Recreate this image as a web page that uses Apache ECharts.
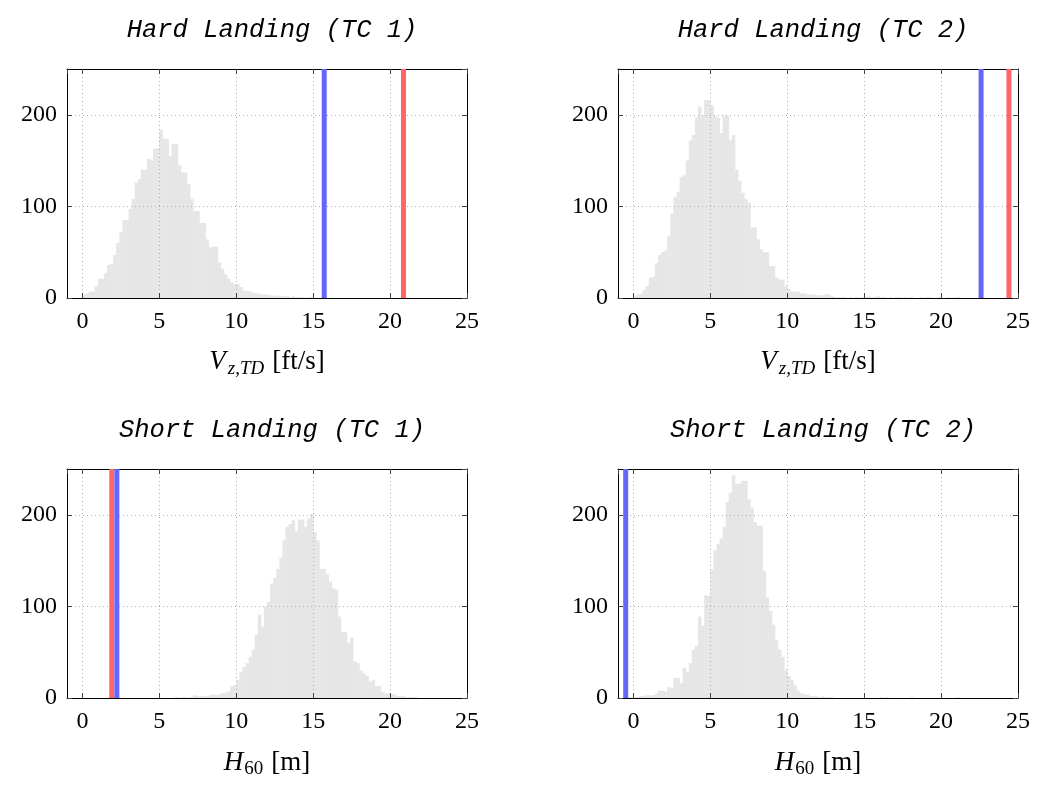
<!DOCTYPE html>
<html>
<head>
<meta charset="utf-8">
<script src="https://cdn.jsdelivr.net/npm/echarts@6/dist/echarts.min.js"></script>
<style>
  html, body { margin: 0; padding: 0; background: #ffffff; }
  #chart { width: 1040px; height: 785px; }
</style>
</head>
<body>
<div id="chart"></div>
<script>
// ---- Monte-Carlo histograms of landing metrics (bin width 0.2) ----
const binWidth = 0.2;

// Hard landing, TC 1: touchdown sink rate [ft/s], bins start at 0
const hardTC1Start = 0.0;
const hardTC1Counts = [
  3, 5, 7, 7, 13, 21, 21, 27, 36, 37,
  47, 60, 72, 85, 85, 97, 108, 126, 130, 140,
  140, 152, 150, 163, 163, 184, 174, 174, 155, 168,
  168, 145, 137, 137, 124, 108, 95, 95, 82, 82,
  64, 55, 56, 56, 39, 32, 26, 21, 17, 15,
  15, 12, 8, 8, 7, 6, 5, 5, 4, 4,
  3, 3, 2, 3, 2, 2, 2, 1, 2, 1,
  1, 1, 0, 1, 1
];

// Hard landing, TC 2: touchdown sink rate [ft/s], bins start at 0
const hardTC2Start = 0.0;
const hardTC2Counts = [
  2, 4, 5, 9, 13, 22, 23, 38, 47, 50,
  52, 68, 92, 110, 116, 132, 134, 150, 172, 178,
  197, 209, 199, 216, 216, 210, 199, 197, 180, 199,
  199, 172, 178, 140, 128, 115, 108, 104, 77, 77,
  64, 53, 50, 50, 35, 35, 22, 20, 20, 13,
  10, 7, 7, 7, 5, 5, 4, 4, 4, 3,
  3, 3, 4, 4, 2, 1, 1, 1, 1, 0,
  1, 0, 1, 0, 1, 1, 2, 1, 1, 2,
  1, 1, 0, 1, 0, 1, 1, 0, 1, 0,
  1, 0, 0, 1, 0, 1, 1, 0, 0, 1,
  0, 0, 1, 0, 1, 1
];

// Short landing, TC 1: height at 60 m [m], bins start at 6
const shortTC1Start = 6.0;
const shortTC1Counts = [
  1, 0, 1, 1, 0, 1, 3, 2, 2, 2,
  2, 3, 4, 3, 4, 5, 6, 7, 13, 14,
  20, 28, 34, 38, 45, 53, 69, 91, 78, 100,
  105, 125, 131, 141, 153, 172, 187, 190, 194, 182,
  195, 195, 187, 196, 201, 181, 172, 141, 141, 135,
  127, 120, 118, 89, 72, 72, 60, 66, 40, 38,
  30, 27, 24, 18, 20, 13, 13, 7, 5, 5,
  4, 4, 2, 2, 2, 1, 1, 1, 1
];

// Short landing, TC 2: height at 60 m [m], bins start at -0.4
const shortTC2Start = -0.4;
const shortTC2Counts = [
  1, 1, 1, 1, 2, 2, 3, 3, 3, 5,
  8, 8, 7, 12, 11, 22, 22, 16, 33, 29,
  38, 53, 57, 89, 79, 112, 112, 140, 161, 168,
  174, 187, 214, 224, 243, 234, 234, 237, 237, 217,
  208, 192, 188, 188, 139, 110, 95, 80, 63, 53,
  45, 31, 24, 20, 14, 8, 5, 4, 4, 2,
  2, 2, 1, 2, 1, 1, 1, 0, 0, 0,
  0, 0, 0, 0, 0, 0, 0, 0, 0, 0,
  0, 0, 1, 0, 1, 0, 0, 0, 0, 0,
  0, 0, 1, 0, 0, 0, 0, 0, 0, 0,
  0, 0, 0, 0, 0, 0, 0, 1
];

// Threshold markers (x positions)
const hardTC1Red = 20.87;
const hardTC1Blue = 15.72;
const hardTC2Red = 24.41;
const hardTC2Blue = 22.6;
const shortTC1Red = 1.91;
const shortTC1Blue = 2.24;
const shortTC2Blue = -0.5;

// Titles and axis settings
const panelTitles = [
  'Hard Landing (TC 1)', 'Hard Landing (TC 2)',
  'Short Landing (TC 1)', 'Short Landing (TC 2)'
];
const xRange = [-1, 25];
const xStep = 5;
const yRange = [0, 250];
const yStep = 100;

// ---- styling ----
const RED = '#ff6666';
const BLUE = '#6666ff';
const BAR_FILL = '#e6e6e6';
const SERIF = '"Liberation Serif", "DejaVu Serif", serif';
const MONO = '"Liberation Mono", "DejaVu Sans Mono", monospace';

const vzName = '{v|V}{sub|z,TD}{n|[ft/s]}';
const hName = '{v|H}{num|60}{n|[m]}';
const nameRich = {
  v:   { fontFamily: SERIF, fontStyle: 'italic', fontSize: 27, color: '#000' },
  sub: { fontFamily: SERIF, fontStyle: 'italic', fontSize: 19, color: '#000', padding: [13, 0, 0, 2] },
  num: { fontFamily: SERIF, fontSize: 19, color: '#000', padding: [13, 0, 0, 1] },
  n:   { fontFamily: SERIF, fontSize: 27, color: '#000', padding: [0, 0, 0, 8] }
};

const panels = [
  { title: panelTitles[0], start: hardTC1Start, counts: hardTC1Counts,
    marks: [[hardTC1Red, RED], [hardTC1Blue, BLUE]], name: vzName, left: 67, top: 69, gap: 48 },
  { title: panelTitles[1], start: hardTC2Start, counts: hardTC2Counts,
    marks: [[hardTC2Red, RED], [hardTC2Blue, BLUE]], name: vzName, left: 618, top: 69, gap: 48 },
  { title: panelTitles[2], start: shortTC1Start, counts: shortTC1Counts,
    marks: [[shortTC1Red, RED], [shortTC1Blue, BLUE]], name: hName, left: 67, top: 469, gap: 49 },
  { title: panelTitles[3], start: shortTC2Start, counts: shortTC2Counts,
    marks: [[shortTC2Blue, BLUE]], name: hName, left: 618, top: 469, gap: 49 }
];
const PW = 400, PH = 229;

function toBins(start, counts) {
  return counts.map((c, k) => [start + k * binWidth, start + (k + 1) * binWidth, c]);
}

function renderBin(params, api) {
  const a = api.coord([api.value(0), api.value(2)]);
  const b = api.coord([api.value(1), 0]);
  return {
    type: 'rect',
    shape: { x: a[0], y: a[1], width: b[0] - a[0] + 0.4, height: b[1] - a[1] },
    style: { fill: BAR_FILL }
  };
}

const axisLine = { show: true, onZero: false, lineStyle: { color: '#000', width: 1 } };
const axisTick = { show: true, inside: true, length: 5, lineStyle: { color: '#444', width: 1 } };
const gridLine = { show: true, lineStyle: { type: [1, 3], color: '#b0b0b0', width: 1 } };
const tickFont = { fontFamily: SERIF, fontSize: 24, color: '#000' };

const option = {
  animation: false,
  backgroundColor: '#ffffff',
  title: [], grid: [], xAxis: [], yAxis: [], series: []
};

panels.forEach((p, i) => {
  option.title.push({
    text: p.title, left: p.left + PW / 2, top: p.top - 57, textAlign: 'center',
    textStyle: { fontFamily: MONO, fontStyle: 'italic', fontWeight: 'normal', fontSize: 25.5, color: '#000' }
  });
  option.grid.push({
    left: p.left, top: p.top, width: PW, height: PH,
    containLabel: false, outerBoundsMode: 'none'
  });
  // bottom + top x axes
  option.xAxis.push({
    type: 'value', gridIndex: i, position: 'bottom', z: 3,
    min: xRange[0], max: xRange[1], minInterval: xStep, maxInterval: xStep, splitNumber: 5,
    axisLine, axisTick,
    axisLabel: Object.assign({ margin: 12, showMinLabel: false }, tickFont),
    splitLine: gridLine,
    name: p.name, nameLocation: 'middle', nameGap: p.gap,
    nameTextStyle: { rich: nameRich }
  });
  option.xAxis.push({
    type: 'value', gridIndex: i, position: 'top', z: 3,
    min: xRange[0], max: xRange[1], minInterval: xStep, maxInterval: xStep, splitNumber: 5,
    axisLine, axisTick, axisLabel: { show: false }, splitLine: { show: false }
  });
  // left + right y axes
  option.yAxis.push({
    type: 'value', gridIndex: i, position: 'left', z: 3,
    min: yRange[0], max: yRange[1], interval: yStep,
    axisLine, axisTick,
    axisLabel: Object.assign({ margin: 10, showMaxLabel: false }, tickFont),
    splitLine: gridLine
  });
  option.yAxis.push({
    type: 'value', gridIndex: i, position: 'right', z: 3,
    min: yRange[0], max: yRange[1], interval: yStep,
    axisLine, axisTick, axisLabel: { show: false }, splitLine: { show: false }
  });

  option.series.push({
    type: 'custom', xAxisIndex: 2 * i, yAxisIndex: 2 * i, z: 1, silent: true,
    data: toBins(p.start, p.counts), encode: { x: [0, 1], y: 2 },
    renderItem: renderBin, clip: true
  });
  p.marks.forEach(([x, color]) => {
    option.series.push({
      type: 'line', xAxisIndex: 2 * i, yAxisIndex: 2 * i, z: 5, silent: true,
      data: [[x, yRange[0]], [x, yRange[1]]], symbol: 'none',
      lineStyle: { color, width: 5 }
    });
  });
});

const chart = echarts.init(document.getElementById('chart'), null, { renderer: 'canvas' });
chart.setOption(option);
</script>
</body>
</html>
